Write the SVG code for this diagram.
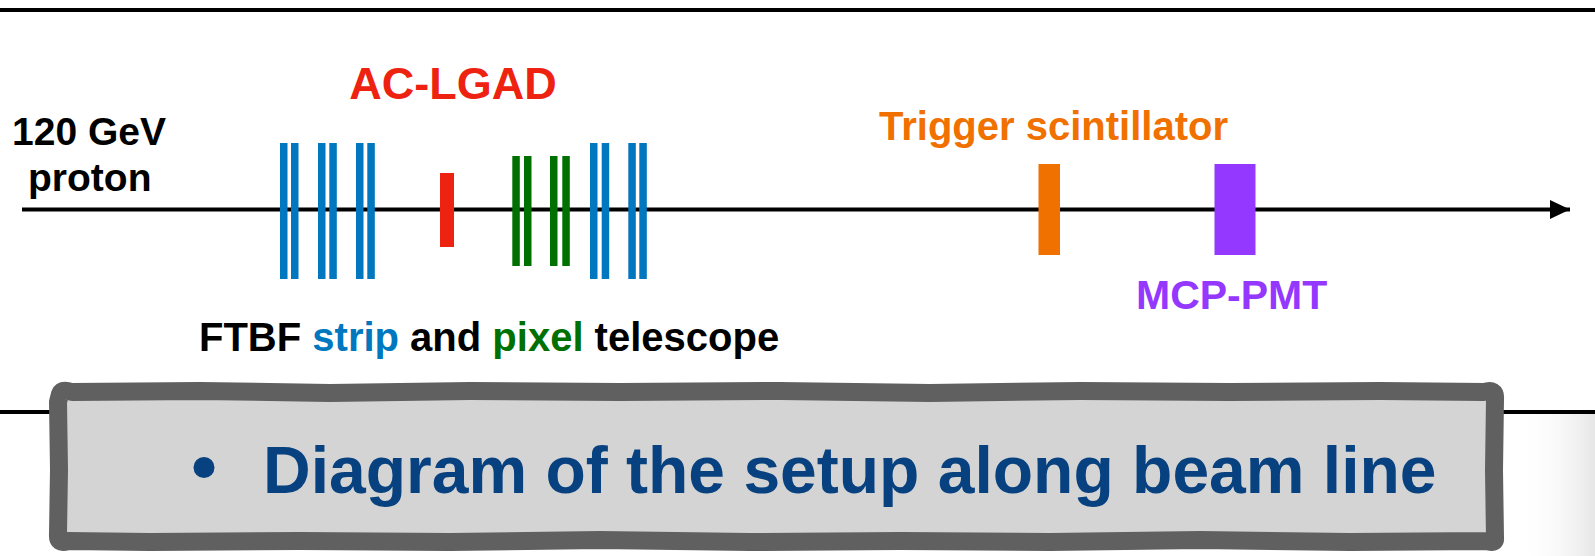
<svg xmlns="http://www.w3.org/2000/svg" width="1595" height="556" viewBox="0 0 1595 556">
<style>
  text { font-family: "Liberation Sans", Arial, sans-serif; font-weight: bold; }
  .strip { fill: #0077BE; }
  .pixel { fill: #007000; }
  .rule { stroke: #000; stroke-width: 4; fill: none; }
</style>
<defs>
  <marker id="arrow" markerWidth="6" markerHeight="6" refX="5" refY="3" orient="auto" markerUnits="strokeWidth">
    <path d="M0,0.6 L5,3 L0,5.4 Z" fill="#000"/>
  </marker>
  <linearGradient id="shadow" x1="0" y1="0" x2="1" y2="0">
    <stop offset="0" stop-color="#ffffff" stop-opacity="0"/>
    <stop offset="1" stop-color="#e6e6e6" stop-opacity="1"/>
  </linearGradient>
</defs>
<rect width="1595" height="556" fill="#fff"/>
<rect x="1520" y="414" width="75" height="142" fill="url(#shadow)"/>
<line class="rule" x1="0" y1="10" x2="1595" y2="10"/>
<line class="rule" x1="0" y1="412" x2="60" y2="412"/>
<line class="rule" x1="1495" y1="412" x2="1595" y2="412"/>

<g id="connectors">
  <line x1="22" y1="209.5" x2="1570" y2="209.5" stroke="#000" stroke-width="4" marker-end="url(#arrow)"/>
</g>

<g id="beam-label">
  <text x="12" y="145" font-size="39" fill="#000">120 GeV</text>
  <text x="28" y="191" font-size="39" fill="#000">proton</text>
</g>

<g id="strip-telescope-1">
  <rect class="strip" x="280" y="143" width="7.5" height="136"/>
  <rect class="strip" x="291" y="143" width="7.5" height="136"/>
  <rect class="strip" x="318" y="143" width="7.5" height="136"/>
  <rect class="strip" x="329.3" y="143" width="7.5" height="136"/>
  <rect class="strip" x="356" y="143" width="7.5" height="136"/>
  <rect class="strip" x="367.3" y="143" width="7.5" height="136"/>
</g>

<g id="ac-lgad">
  <rect x="440" y="173" width="14" height="74" fill="#EE2211"/>
  <text x="453" y="99" font-size="45" fill="#EE2211" text-anchor="middle">AC-LGAD</text>
</g>

<g id="pixel-telescope">
  <rect class="pixel" x="512.3" y="156" width="7.5" height="110"/>
  <rect class="pixel" x="524" y="156" width="7.5" height="110"/>
  <rect class="pixel" x="550" y="156" width="7.5" height="110"/>
  <rect class="pixel" x="562.3" y="156" width="7.5" height="110"/>
</g>

<g id="strip-telescope-2">
  <rect class="strip" x="590" y="143" width="7.5" height="136"/>
  <rect class="strip" x="601.7" y="143" width="7.5" height="136"/>
  <rect class="strip" x="628.3" y="143" width="7.5" height="136"/>
  <rect class="strip" x="639.3" y="143" width="7.5" height="136"/>
</g>

<g id="telescope-label">
  <text x="199" y="351" font-size="40" fill="#000">FTBF <tspan fill="#0077BE">strip</tspan> and <tspan fill="#007000">pixel</tspan> telescope</text>
</g>

<g id="trigger-scintillator">
  <rect x="1038.5" y="164" width="21.5" height="91" fill="#F07000"/>
  <text x="879" y="140" font-size="40" fill="#F07000">Trigger scintillator</text>
</g>

<g id="mcp-pmt">
  <rect x="1214.5" y="164" width="41" height="91" fill="#9438FF"/>
  <text x="1136" y="309" font-size="41" fill="#9438FF">MCP-PMT</text>
</g>

<g id="caption-box">
  <path d="M60,394 Q62,389 72,392 L200,391 L330,393 L470,391 L620,392 L780,391 L930,393 L1080,391 L1230,392 L1380,391 L1484,392 Q1496,388 1495,399 L1494,470 L1495,538 Q1496,544 1486,541 L1350,542 L1200,540 L1050,542 L900,541 L750,542 L600,540 L450,542 L300,541 L150,542 L68,541 Q57,545 58,534 L59,470 L58,402 Z"
        fill="#D4D4D4" stroke="#606060" stroke-width="18" stroke-linejoin="round"/>
  <circle cx="204" cy="467.5" r="10.5" fill="#07417F"/>
  <text x="263" y="493" font-size="66" fill="#07417F">Diagram of the setup along beam line</text>
</g>
</svg>
